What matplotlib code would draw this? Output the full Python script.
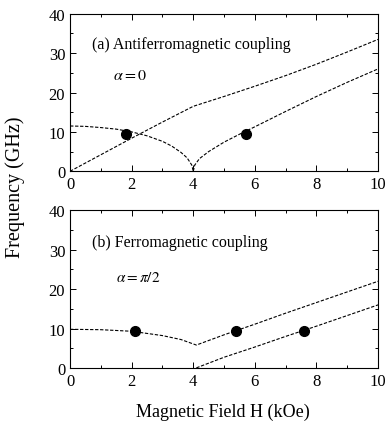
import numpy as np
import matplotlib
matplotlib.use("Agg")
from matplotlib import pyplot as plt
from matplotlib.ticker import MultipleLocator

plt.rcParams['font.family'] = ['Liberation Serif', 'DejaVu Serif']
plt.rcParams['mathtext.fontset'] = 'stix'

# (a) antiferromagnetic coupling, alpha = 0
a_up_h = [0, 1, 2, 3, 4, 5, 6, 7, 8, 9, 10]
a_up_f = [0, 4.2, 8.4, 12.5, 16.5, 19.0, 21.6, 24.3, 27.2, 30.3, 33.5]
a_low_h = [0, 0.5, 1, 1.5, 2, 2.5, 3, 3.3, 3.6, 3.8, 3.95, 4.0]
a_low_f = [11.5, 11.4, 11.1, 10.7, 10.0, 9.0, 7.6, 6.4, 4.8, 3.4, 1.6, 0]
a_hi_h = [4.0, 4.05, 4.2, 4.5, 5.0, 5.5, 6, 7, 8, 9, 10]
a_hi_f = [0, 1.6, 3.2, 5.0, 7.4, 9.4, 11.3, 15.2, 19.0, 22.6, 26.0]
a_pts_h = [1.8, 5.7]
a_pts_f = [9.5, 9.5]

# (b) ferromagnetic coupling, alpha = pi/2
b_up_h = [0, 1, 2, 3, 3.6, 4.1, 5, 6, 7, 8, 9, 10]
b_up_f = [9.8, 9.7, 9.3, 8.2, 7.2, 5.8, 8.4, 11.1, 13.9, 16.6, 19.3, 22.0]
b_low_h = [4.1, 5, 6, 7, 8, 9, 10]
b_low_f = [0, 2.7, 5.3, 8.0, 10.6, 13.3, 16.0]
b_pts_h = [2.1, 5.4, 7.6]
b_pts_f = [9.3, 9.3, 9.3]

fig = plt.figure(figsize=(3.85, 4.35), dpi=100)
ax1 = fig.add_axes([0.182, 0.604, 0.800, 0.362])
ax2 = fig.add_axes([0.182, 0.152, 0.800, 0.362])

line_kw = dict(color='black', lw=0.8, ls=(0, (3, 1.5)))

ax1.plot(a_up_h, a_up_f, **line_kw)
ax1.plot(a_low_h, a_low_f, **line_kw)
ax1.plot(a_hi_h, a_hi_f, **line_kw)
ax1.plot(a_pts_h, a_pts_f, 'o', color='black', ms=7)
ax1.text(0.7, 32.3, '(a) Antiferromagnetic coupling', fontsize=11.5, va='center')
ax1.text(1.4, 24.5, r'$\alpha = 0$', fontsize=11.5, va='center')

ax2.plot(b_up_h, b_up_f, **line_kw)
ax2.plot(b_low_h, b_low_f, **line_kw)
ax2.plot(b_pts_h, b_pts_f, 'o', color='black', ms=7)
ax2.text(0.7, 32.0, '(b) Ferromagnetic coupling', fontsize=11.5, va='center')
ax2.text(1.5, 23.2, r'$\alpha = \pi/2$', fontsize=11, va='center')

for ax in (ax1, ax2):
    ax.set_xlim(0, 10)
    ax.set_ylim(0, 40)
    ax.xaxis.set_major_locator(MultipleLocator(2))
    ax.xaxis.set_minor_locator(MultipleLocator(1))
    ax.yaxis.set_major_locator(MultipleLocator(10))
    ax.yaxis.set_minor_locator(MultipleLocator(5))
    ax.tick_params(which='both', direction='in', top=True, right=True,
                   labelsize=12, width=0.7)
    ax.tick_params(which='major', length=4)
    ax.tick_params(which='minor', length=2)
    for s in ax.spines.values():
        s.set_linewidth(0.8)
        s.set_linestyle((0, (4, 1)))

fig.text(0.04, 0.57, 'Frequency (GHz)', rotation=90, fontsize=14.5,
         ha='center', va='center')
fig.text(0.58, 0.052, 'Magnetic Field H (kOe)', fontsize=13,
         ha='center', va='center')

fig.savefig('out.png', dpi=100)
